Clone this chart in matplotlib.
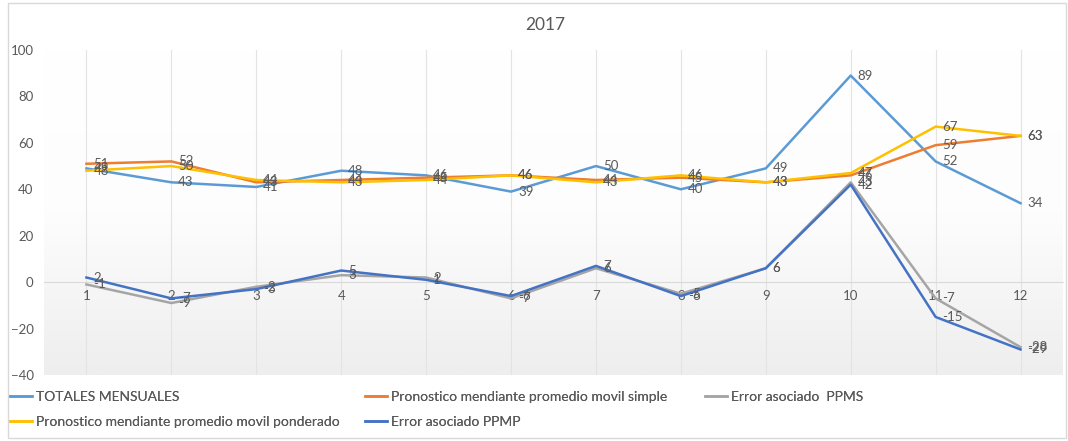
import numpy as np
import matplotlib
matplotlib.use('Agg')
import matplotlib.pyplot as plt
from matplotlib.patches import Rectangle

plt.rcParams['font.family'] = ['Lato', 'DejaVu Sans']

meses = list(range(1, 13))
totales = [49, 43, 41, 48, 46, 39, 50, 40, 49, 89, 52, 34]
simple = [51, 52, 43, 44, 45, 46, 44, 45, 43, 46, 59, 63]
ponderado = [48, 50, 44, 43, 44, 46, 43, 46, 43, 47, 67, 63]
error_ppms = [-1, -9, -2, 3, 2, -7, 6, -5, 6, 43, -7, -28]
error_ppmp = [2, -7, -3, 5, 1, -6, 7, -6, 6, 42, -15, -29]

series = [
    ('TOTALES MENSUALES', totales, '#5B9BD5'),
    ('Pronostico mendiante promedio movil simple', simple, '#ED7D31'),
    ('Error asociado  PPMS', error_ppms, '#A5A5A5'),
    ('Pronostico mendiante promedio movil ponderado', ponderado, '#FFC000'),
    ('Error asociado PPMP', error_ppmp, '#4472C4'),
]
# posicion de cada entrada de la leyenda (px desde arriba-izquierda)
leg_pos = [(10, 397), (365, 397), (705, 397), (10, 422), (365, 422)]

fig = plt.figure(figsize=(10.68, 4.41), dpi=100)
ax = fig.add_axes([44 / 1068, 66 / 441, 1019 / 1068, 325 / 441])

# fondo degradado del area de trazado
grad = np.linspace(0, 1, 256).reshape(-1, 1)
cmap = matplotlib.colors.LinearSegmentedColormap.from_list('g', ['#FFFFFF', '#FDFDFD', '#EEEEEE'])
ax.imshow(grad, cmap=cmap, aspect='auto', extent=[0.5, 12.5, -40, 100], origin='upper', zorder=0)

lines = []
for name, vals, col in series:
    l, = ax.plot(meses, vals, color=col, lw=1.8, label=name, zorder=3)
    lines.append(l)
    for x, v in zip(meses, vals):
        ax.annotate(str(v), (x, v), xytext=(5, 0), textcoords='offset points',
                    va='center', ha='left', fontsize=9.5, color='#595959', zorder=4)

ax.set_xlim(0.5, 12.5)
ax.set_ylim(-40, 100)
ax.set_xticks(meses)
ax.set_yticks(range(-40, 101, 20))
ax.tick_params(length=0, labelsize=9.5, labelcolor='#595959')
ax.tick_params(axis='y', pad=7.5)
ax.tick_params(axis='x', pad=6)
for s in ['top', 'right', 'left']:
    ax.spines[s].set_visible(False)
ax.spines['bottom'].set_position(('data', 0))
ax.spines['bottom'].set_color('#D9D9D9')
ax.grid(axis='x', color='#E3E3E3', lw=0.8, zorder=1)
ax.set_axisbelow(True)

fig.text(545 / 1068, 1 - 25 / 441, '2017', ha='center', va='center', fontsize=12.5, color='#595959')

for l, (px, py) in zip(lines, leg_pos):
    leg = fig.legend(handles=[l], loc='center left', bbox_to_anchor=(px / 1068, 1 - py / 441),
                     frameon=False, fontsize=10, labelcolor='#595959',
                     handlelength=1.6, handletextpad=0.3, borderpad=0, borderaxespad=0)
    fig.add_artist(leg)

fig.patches.append(Rectangle((8 / 1068, 3 / 441), 1058 / 1068, 435 / 441, transform=fig.transFigure,
                             fill=False, edgecolor='#D9D9D9', lw=1))

fig.savefig('out.png', dpi=100)
